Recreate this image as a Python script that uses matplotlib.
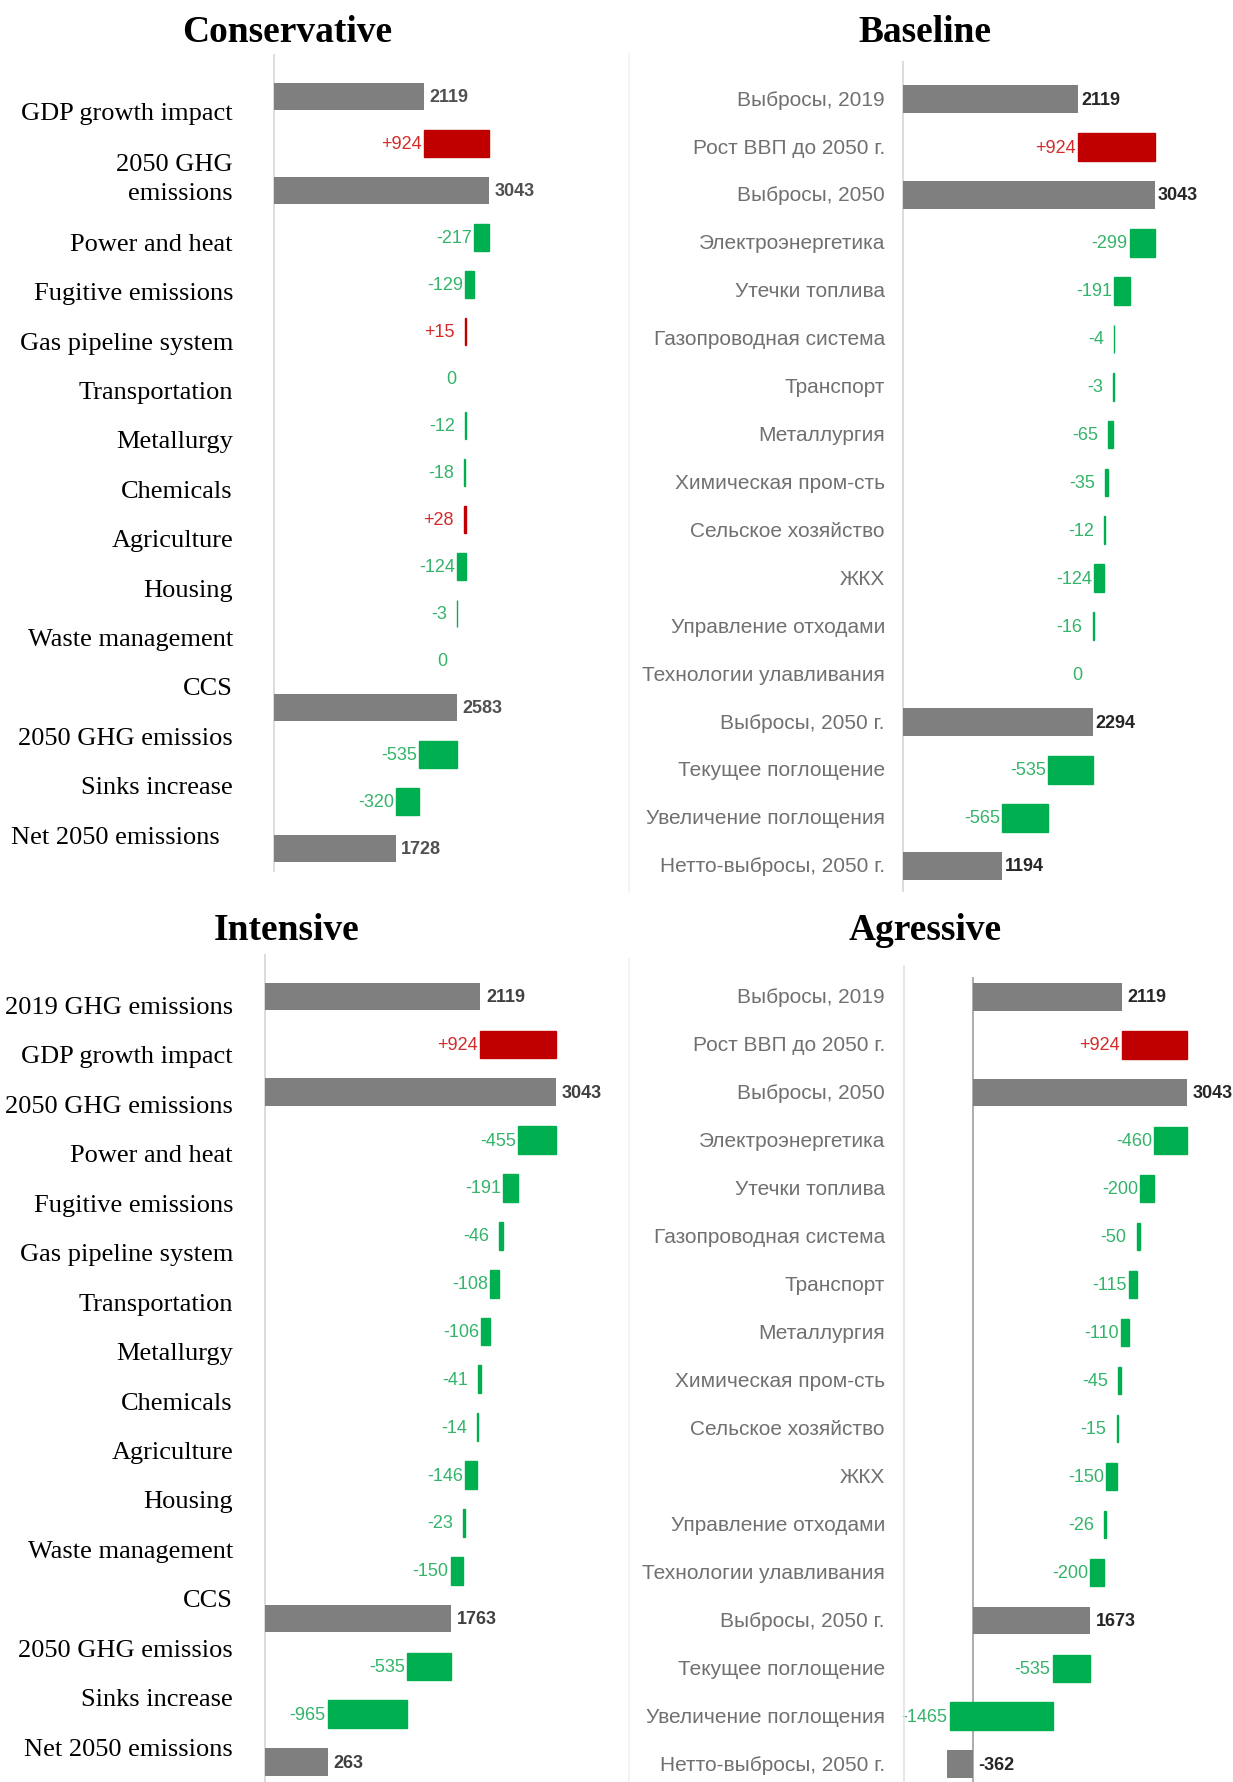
import matplotlib
matplotlib.use("Agg")
import matplotlib.pyplot as plt
from matplotlib.lines import Line2D
from matplotlib import transforms

plt.rcParams["font.family"] = "Liberation Sans"

W, H = 1233, 1783

# ---------------- data ----------------
titles = ["Conservative", "Baseline", "Intensive", "Agressive"]

en_labels_cons = ["GDP growth impact", "2050 GHG\nemissions", "Power and heat",
                  "Fugitive emissions", "Gas pipeline system", "Transportation",
                  "Metallurgy", "Chemicals", "Agriculture", "Housing",
                  "Waste management", "CCS", "2050 GHG emissios", "Sinks increase",
                  "Net 2050 emissions  "]
en_labels_int = ["2019 GHG emissions", "GDP growth impact", "2050 GHG emissions",
                 "Power and heat", "Fugitive emissions", "Gas pipeline system",
                 "Transportation", "Metallurgy", "Chemicals", "Agriculture", "Housing",
                 "Waste management", "CCS", "2050 GHG emissios", "Sinks increase",
                 "Net 2050 emissions"]
ru_labels = ["Выбросы, 2019", "Рост ВВП до 2050 г.", "Выбросы, 2050",
             "Электроэнергетика", "Утечки топлива", "Газопроводная система",
             "Транспорт", "Металлургия", "Химическая пром-сть", "Сельское хозяйство",
             "ЖКХ", "Управление отходами", "Технологии улавливания",
             "Выбросы, 2050 г.", "Текущее поглощение", "Увеличение поглощения",
             "Нетто-выбросы, 2050 г."]

# T = total bar, D = change
kinds = ["T", "D", "T", "D", "D", "D", "D", "D", "D", "D", "D", "D", "D", "T", "D", "D", "T"]
conservative = [2119, 924, 3043, -217, -129, 15, 0, -12, -18, 28, -124, -3, 0, 2583, -535, -320, 1728]
baseline = [2119, 924, 3043, -299, -191, -4, -3, -65, -35, -12, -124, -16, 0, 2294, -535, -565, 1194]
intensive = [2119, 924, 3043, -455, -191, -46, -108, -106, -41, -14, -146, -23, -150, 1763, -535, -965, 263]
aggressive = [2119, 924, 3043, -460, -200, -50, -115, -110, -45, -15, -150, -26, -200, 1673, -535, -1465, -362]

GRAY = "#7f7f7f"
RED = "#c00000"
GREEN = "#00b050"
RED_TXT = "#d42a2a"
GREEN_TXT = "#34b46a"

fig = plt.figure(figsize=(W / 100, H / 100), dpi=100)


def fx(x):
    return x / W


def fy(y):
    return 1 - y / H


def vline_px(x, y0, y1, color, lw=1.2):
    fig.add_artist(Line2D([fx(x), fx(x)], [fy(y0), fy(y1)], color=color, lw=lw,
                          transform=fig.transFigure))


def waterfall(vals, zero, s, left, right, first, last, top, bot, base, tot_color,
              axis_color="#d9d9d9", tot_pad=5):
    n = len(vals)
    step = (last - first) / (n - 1)
    ax = fig.add_axes([fx(left), fy(bot), (right - left) / W, (bot - top) / H])
    ax.set_xlim((left - zero) / s, (right - zero) / s)
    ax.set_ylim((bot - first) / step, (top - first) / step)
    ax.axis("off")
    ax.axvline(base, color=axis_color, lw=1.3, zorder=0)
    run = 0
    for i, (k, v) in enumerate(zip(kinds, vals)):
        if k == "T":
            ax.barh(i, v - base, left=base, height=0.58, color=GRAY, lw=0)
            run = v
            ax.text(max(v, 0) + tot_pad / s, i, f"{v}", ha="left", va="center",
                    fontsize=13, fontweight="bold", color=tot_color)
        else:
            c = RED if v > 0 else GREEN
            tc = RED_TXT if v > 0 else GREEN_TXT
            ax.barh(i, v, left=run, height=0.58, color=c, ec=c,
                    lw=1 if v != 0 else 0)
            lo = min(run, run + v)
            pad = 2 if abs(v) * s > 6 else 10
            txt = f"{v:+d}" if v != 0 else "0"
            ax.text(lo - pad / s, i, txt, ha="right", va="center",
                    fontsize=13, color=tc)
            run += v
    return ax, step


# Conservative (top left)
waterfall(conservative, zero=274, s=0.0708, left=240, right=620,
          first=97.8, last=849.7, top=55, bot=873, base=0, tot_color="#505050")
# Baseline (top right)
ax_b, step_b = waterfall(baseline, zero=903.2, s=0.0826, left=880, right=1233,
                         first=100.1, last=866.8, top=62, bot=893, base=0,
                         tot_color="#262626", tot_pad=3)
# Intensive (bottom left) - axis starts at -500
waterfall(intensive, zero=306, s=0.0821, left=240, right=620,
          first=997.6, last=1763.1, top=955, bot=1783, base=-500,
          tot_color="#404040", tot_pad=6)
# Agressive (bottom right)
ax_a, step_a = waterfall(aggressive, zero=972.6, s=0.0703, left=880, right=1233,
                         first=997.6, last=1765.4, top=978, bot=1783, base=0,
                         tot_color="#262626", axis_color="#a6a6a6", tot_pad=6)

# panel frame lines on the right side
vline_px(904, 967, 1783, "#e3e3e3")
vline_px(629, 55, 893, "#f2f2f2")
vline_px(629, 960, 1783, "#f2f2f2")

# titles
for t, (x, y) in zip(titles, [(287, 32), (925, 32), (287, 931), (925, 931)]):
    fig.text(fx(x), fy(y), t, ha="center", va="center", fontsize=27,
             fontweight="bold", family="Liberation Serif")

# English labels (left panels)
y = 114
for i, lab in enumerate(en_labels_cons):
    if i > 0:
        y += 49.4
        if "\n" in lab or "\n" in en_labels_cons[i - 1]:
            y += 16
    fig.text(fx(233), fy(y), lab, ha="right", va="center", fontsize=19,
             family="Liberation Serif", linespacing=1.45)
for i, lab in enumerate(en_labels_int):
    fig.text(fx(233), fy(1008 + 49.45 * i), lab, ha="right", va="center",
             fontsize=19, family="Liberation Serif")

# Russian labels (right panels)
for ax in (ax_b, ax_a):
    tr = transforms.blended_transform_factory(fig.transFigure, ax.transData)
    for i, lab in enumerate(ru_labels):
        ax.text(fx(885), i, lab, transform=tr, ha="right", va="center",
                fontsize=15, color="#707070")

fig.savefig("out.png", dpi=100)
